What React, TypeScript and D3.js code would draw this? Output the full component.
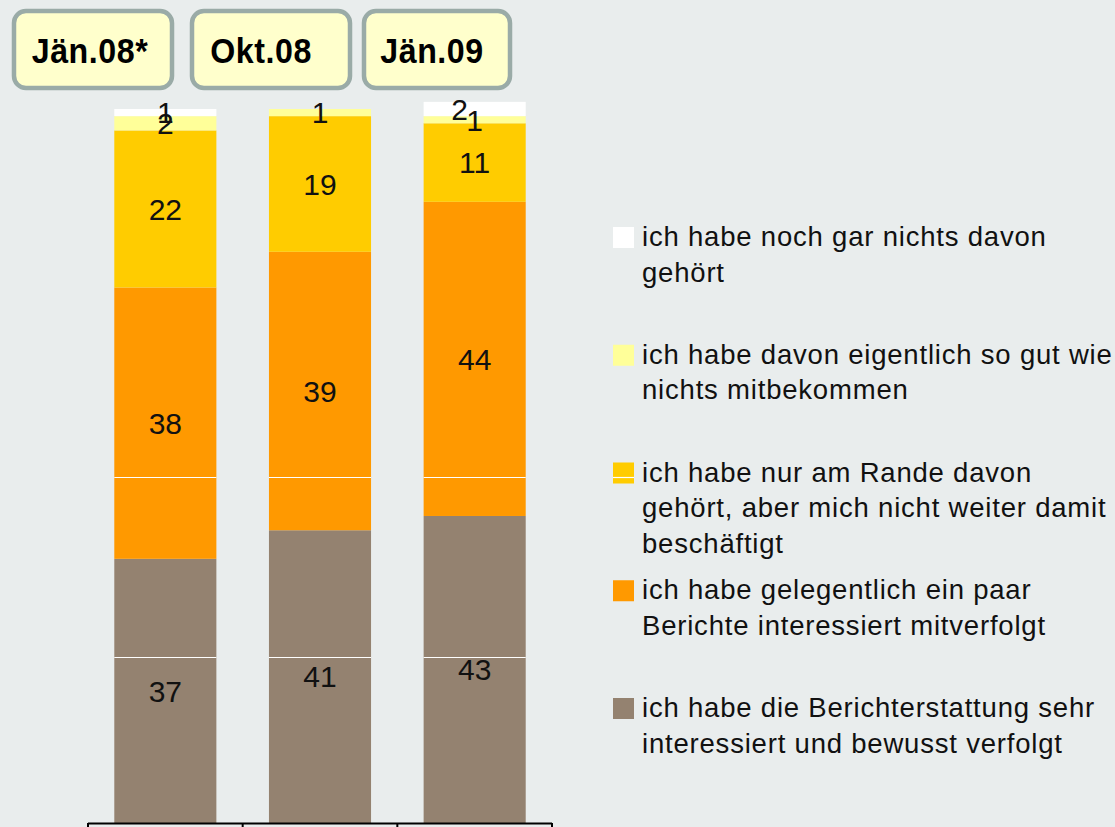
import React from "react";
import * as d3 from "d3";

const categories = ["Jän.08*", "Okt.08", "Jän.09"];

// stack order: bottom -> top
const sehrInteressiert = [37, 41, 43];
const gelegentlich = [38, 39, 44];
const amRande = [22, 19, 11];
const soGutWieNichts = [2, 1, 1];
const garNichts = [1, 0, 2];

const seriesKeys = ["sehr", "gelegentlich", "rande", "sogut", "nichts"];
const seriesValues = [sehrInteressiert, gelegentlich, amRande, soGutWieNichts, garNichts];
const seriesColors = ["#948270", "#FF9900", "#FFCC00", "#FFFF99", "#FFFFFF"];

const legendLines = [
  ["ich habe noch gar nichts davon", "gehört"],
  ["ich habe davon eigentlich so gut wie", "nichts mitbekommen"],
  ["ich habe nur am Rande davon", "gehört, aber mich nicht weiter damit", "beschäftigt"],
  ["ich habe gelegentlich ein paar", "Berichte interessiert mitverfolgt"],
  ["ich habe die Berichterstattung sehr", "interessiert und bewusst verfolgt"],
];
// legend order (top -> bottom) refers to series index
const legendSeries = [4, 3, 2, 1, 0];

const gridValues = [23.25, 48.5];

const W = 1115;
const H = 827;
const BG = "#E9EDED";
const FONT = "'Liberation Sans', Arial, sans-serif";

export default function App() {
  const x = d3
    .scaleBand<string>()
    .domain(categories)
    .range([88, 552])
    .paddingInner(0.34)
    .paddingOuter(0.17);
  const y = d3.scaleLinear().domain([0, 100]).range([823, 109]);

  const table = categories.map((c, i) => {
    const row: any = { cat: c };
    seriesKeys.forEach((k, s) => (row[k] = seriesValues[s][i]));
    return row;
  });
  const stacked = d3.stack<any>().keys(seriesKeys)(table);

  const bw = x.bandwidth();
  const step = x.step();
  const boundaries = d3.range(categories.length + 1).map((i) => 88 + i * step);

  // header boxes (layout)
  const headerBoxes = [
    { x: 14, w: 158, tx: 90 },
    { x: 192, w: 158, tx: 261 },
    { x: 364, w: 146, tx: 432 },
  ];

  const legendX = 613;
  const legendTextX = 642;
  const legendBase0 = 246;
  const legendGap = 117.75;
  const lineH = 35.5;

  // rects that show white grid lines
  const gridRects: { x: number; w: number; y0: number; y1: number }[] = [];
  stacked.forEach((layer) =>
    layer.forEach((d: any) => {
      const y0 = y(d[1]);
      const y1 = y(d[0]);
      if (y1 - y0 > 0) gridRects.push({ x: x(d.data.cat)!, w: bw, y0, y1 });
    })
  );
  legendSeries.forEach((s, i) => {
    const b = legendBase0 + i * legendGap;
    gridRects.push({ x: legendX, w: 21, y0: b - 19, y1: b + 2 });
  });

  const labelDx = (s: number, c: number) => (s === 4 && c === 2 ? -15 : 0);

  return (
    <svg
      width={W}
      height={H}
      style={{ position: "absolute", left: 0, top: 0, background: BG }}
      fontFamily={FONT}
    >
      <rect x={0} y={0} width={W} height={H} fill={BG} />

      {headerBoxes.map((b, i) => (
        <g key={"h" + i}>
          <rect
            x={b.x}
            y={11}
            width={b.w}
            height={77}
            rx={12}
            ry={12}
            fill="#FFFFCC"
            stroke="#9AABA7"
            strokeWidth={4.5}
          />
          <text
            x={0}
            y={0}
            transform={`translate(${b.tx},63) scale(0.92,1)`}
            textAnchor="middle"
            fontSize={35}
            fontWeight="bold"
            letterSpacing={0.6}
            fill="#000"
          >
            {categories[i]}
          </text>
        </g>
      ))}

      {stacked.map((layer, s) => (
        <g key={"l" + s} fill={seriesColors[s]}>
          {layer.map((d: any, c) => {
            const h = y(d[0]) - y(d[1]);
            if (h <= 0) return null;
            return <rect key={c} x={x(d.data.cat)} y={y(d[1])} width={bw} height={h} />;
          })}
        </g>
      ))}

      {gridValues.map((g, gi) =>
        gridRects
          .filter((r) => y(g) > r.y0 && y(g) < r.y1)
          .map((r, ri) => (
            <line
              key={"g" + gi + "-" + ri}
              x1={r.x}
              x2={r.x + r.w}
              y1={Math.round(y(g)) + 0.5}
              y2={Math.round(y(g)) + 0.5}
              stroke="#FFFFFF"
              strokeWidth={1.2}
            />
          ))
      )}

      {stacked.map((layer, s) => (
        <g key={"t" + s}>
          {layer.map((d: any, c) => {
            const v = d[1] - d[0];
            if (v <= 0) return null;
            return (
              <text
                key={c}
                x={x(d.data.cat)! + bw / 2 + labelDx(s, c)}
                y={(y(d[0]) + y(d[1])) / 2}
                dy="0.36em"
                textAnchor="middle"
                fontSize={30}
                fill="#111"
              >
                {Math.round(v)}
              </text>
            );
          })}
        </g>
      ))}

      <line x1={boundaries[0]} x2={boundaries[boundaries.length - 1]} y1={823.5} y2={823.5} stroke="#000" strokeWidth={2} />
      {boundaries.map((b, i) => (
        <line key={"tk" + i} x1={b} x2={b} y1={823} y2={832} stroke="#000" strokeWidth={2} />
      ))}

      {legendSeries.map((s, i) => {
        const b = legendBase0 + i * legendGap;
        return (
          <g key={"lg" + i}>
            <rect x={legendX} y={b - 19} width={21} height={21} fill={seriesColors[s]} />
            {legendLines[i].map((ln, li) => (
              <text
                key={li}
                x={legendTextX}
                y={b + li * lineH}
                fontSize={27.5}
                letterSpacing={0.8}
                fill="#111"
              >
                {ln}
              </text>
            ))}
          </g>
        );
      })}

      {gridValues.map((g, gi) =>
        gridRects
          .filter((r) => r.x === legendX && y(g) > r.y0 && y(g) < r.y1)
          .map((r, ri) => (
            <line
              key={"lgg" + gi + "-" + ri}
              x1={r.x}
              x2={r.x + r.w}
              y1={Math.round(y(g)) + 0.5}
              y2={Math.round(y(g)) + 0.5}
              stroke="#FFFFFF"
              strokeWidth={1.2}
            />
          ))
      )}
    </svg>
  );
}
